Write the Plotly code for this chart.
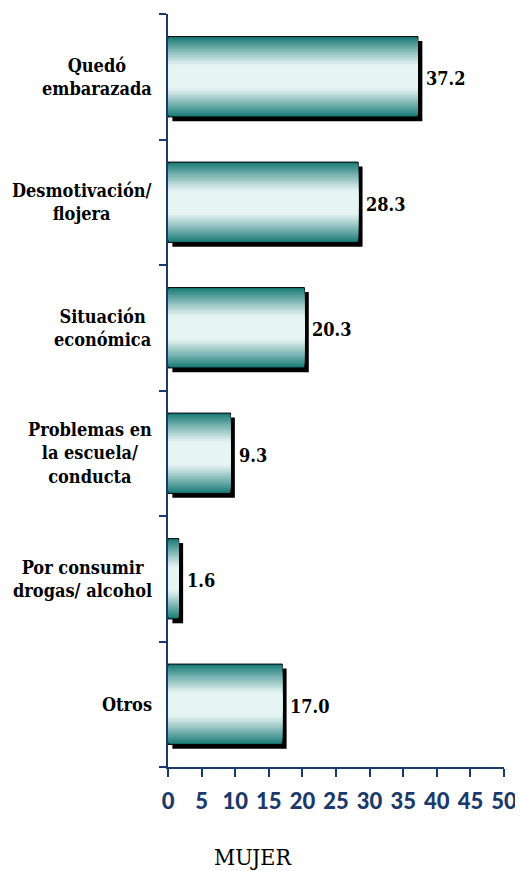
import plotly.graph_objects as go

# data
categorias = ["Quedó embarazada", "Desmotivación/ flojera", "Situación económica",
              "Problemas en la escuela/ conducta", "Por consumir drogas/ alcohol", "Otros"]
etiquetas = ["Quedó<br>embarazada", "Desmotivación/<br>flojera", "Situación<br>económica",
             "Problemas en<br>la escuela/<br>conducta", "Por consumir<br>drogas/ alcohol", "Otros"]
porcentajes = [37.2, 28.3, 20.3, 9.3, 1.6, 17.0]
ticks_x = [0, 5, 10, 15, 20, 25, 30, 35, 40, 45, 50]

NAVY = "#1b3a6b"
TEAL = (27, 124, 120)
LIGHT = (230, 244, 243)
BAR_W = 0.64
SERIF = "DejaVu Serif Condensed, DejaVu Serif"

fig = go.Figure()

# shadow behind each bar, shifted right and down
fig.add_trace(go.Bar(
    y=categorias, x=porcentajes, base=0.65, orientation="h",
    width=BAR_W, offset=-BAR_W / 2 - 0.035,
    marker=dict(color="black", line=dict(width=0)),
    hoverinfo="skip", showlegend=False,
))

# vertical gradient made of overlaid bars of decreasing thickness
n_layers = 22
for i in range(n_layers):
    d = 1 - i / n_layers  # distance from centre (1 = edge)
    s = max(0.0, min(1.0, (d - 0.3) / 0.7)) ** 1.1
    col = tuple(round(LIGHT[k] + (TEAL[k] - LIGHT[k]) * s) for k in range(3))
    fig.add_trace(go.Bar(
        y=categorias, x=porcentajes, orientation="h",
        width=BAR_W * d,
        marker=dict(color="rgb(%d,%d,%d)" % col,
                    line=dict(width=1 if i == 0 else 0, color="black")),
        hoverinfo="skip", showlegend=False,
    ))

# category labels (multi-line, centred)
for cat, lab in zip(categorias, etiquetas):
    fig.add_annotation(x=0, xref="paper", y=cat, yref="y", text="<b>" + lab + "</b>",
                       xanchor="right", xshift=-14, align="center", showarrow=False,
                       font=dict(family=SERIF, size=18, color="black"))

# value labels
for cat, v in zip(categorias, porcentajes):
    fig.add_annotation(x=v, y=cat, text="<b>%.1f</b>" % v, xanchor="left", xshift=6, yshift=-2,
                       showarrow=False,
                       font=dict(family=SERIF, size=18, color="black"))

fig.add_annotation(x=0.254, xref="paper", y=-0.1195, yref="paper", text="MUJER",
                   showarrow=False, xanchor="center", yanchor="middle",
                   font=dict(family=SERIF, size=23, color="black"))

# page body has an 8px margin, so the figure is a bit smaller than the window
fig.update_layout(
    width=515, height=863,
    margin=dict(l=160, r=17, t=6, b=104),
    barmode="overlay",
    plot_bgcolor="white", paper_bgcolor="white",
    showlegend=False,
)
fig.update_xaxes(range=[0, 50], tickvals=ticks_x, showgrid=False, zeroline=False,
                 showline=True, linecolor=NAVY, linewidth=2,
                 ticks="outside", ticklen=8, tickwidth=2, tickcolor=NAVY,
                 ticklabelstandoff=6,
                 tickfont=dict(family="Lato", size=22, color=NAVY, weight=900))
fig.update_yaxes(categoryorder="array", categoryarray=categorias[::-1],
                 range=[-0.5, 5.5], showgrid=False, zeroline=False,
                 showline=True, linecolor=NAVY, linewidth=2,
                 showticklabels=False, tickson="boundaries",
                 ticks="outside", ticklen=7, tickwidth=2, tickcolor=NAVY)

fig.write_html("out.html")
